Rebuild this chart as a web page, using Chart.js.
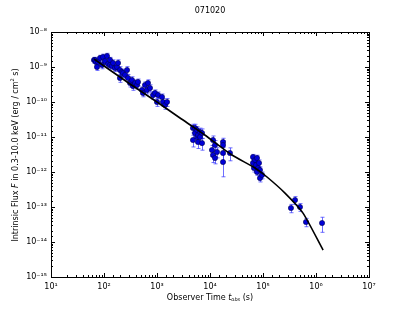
<!DOCTYPE html>
<html>
<head>
<meta charset="utf-8">
<script src="https://cdn.jsdelivr.net/npm/chart.js@4/dist/chart.umd.min.js"></script>
<style>
  html, body { margin: 0; padding: 0; background: #fff; }
  canvas { display: block; }
</style>
</head>
<body>
<canvas id="lc" width="411" height="309"></canvas>
<script>
/* Light curve 071020: measured flux points with errors + model curve */

const obsTime = [
  64.7, 67.6, 70.6, 73.8, 77.1, 84.1, 91.7, 95.8, 104, 114, 119, 130, 130, 141, 148,
  161, 176, 184, 200, 200, 219, 228, 249, 272, 284, 310, 337, 352, 385, 420, 438,
  521, 545, 594, 647, 676, 738, 841, 917, 1000, 1045, 1242, 1297, 1416, 1545,
  4775, 4775, 5210, 5210, 5690, 5690, 5940, 5940, 6480, 6480, 7070, 7070,
  10900, 11400, 11400, 12420, 12420, 13550, 17600, 17600, 17600, 17600, 23800,
  64700, 64700, 67600, 70600, 73800, 77100, 77100, 80500, 84100, 87700, 87700, 95800,
  3.37e5, 4.02e5, 4.99e5, 6.47e5, 1.30e6,
];

const flux = [
  1.58e-9, 1.58e-9, 1.39e-9, 1.0e-9, 1.39e-9, 1.81e-9, 1.14e-9, 1.93e-9, 1.48e-9, 2.06e-9, 1.22e-9, 1.58e-9, 1.14e-9, 1.07e-9, 1.30e-9,
  9.4e-10, 1.0e-9, 1.30e-9, 4.85e-10, 8.2e-10, 7.2e-10, 6.7e-10, 5.9e-10, 8.2e-10, 4.85e-10, 3.49e-10, 4.25e-10, 2.86e-10, 3.49e-10, 3.06e-10, 3.73e-10,
  2.2e-10, 1.81e-10, 3.06e-10, 2.2e-10, 3.49e-10, 2.51e-10, 1.58e-10, 1.81e-10, 1.0e-10, 1.58e-10, 1.39e-10, 1.0e-10, 8.2e-11, 1.0e-10,
  1.81e-11, 8.2e-12, 1.30e-11, 1.81e-11, 1.58e-11, 1.0e-11, 1.14e-11, 7.2e-12, 1.39e-11, 1.0e-11, 1.30e-11, 6.7e-12,
  4.25e-12, 8.2e-12, 3.06e-12, 5.9e-12, 2.51e-12, 3.73e-12, 7.2e-12, 5.9e-12, 3.49e-12, 1.93e-12, 3.49e-12,
  2.68e-12, 1.81e-12, 1.30e-12, 2.2e-12, 1.58e-12, 2.51e-12, 1.0e-12, 1.30e-12, 1.81e-12, 1.14e-12, 6.7e-13, 8.2e-13,
  9.36e-14, 1.58e-13, 1.0e-13, 3.73e-14, 3.49e-14,
];

const fluxErr = [
  3e-10, 3e-10, 3e-10, 2e-10, 3e-10, 3.5e-10, 2.5e-10, 4e-10, 3e-10, 4e-10, 2.5e-10, 3e-10, 2.5e-10, 2e-10, 3e-10,
  2e-10, 2e-10, 3e-10, 1.2e-10, 2e-10, 1.5e-10, 1.5e-10, 1.3e-10, 2e-10, 1.2e-10, 8e-11, 1e-10, 7e-11, 8e-11, 7e-11, 8e-11,
  5e-11, 4e-11, 7e-11, 5e-11, 8e-11, 6e-11, 4e-11, 4e-11, 2.5e-11, 3.5e-11, 3e-11, 2.5e-11, 2e-11, 2.5e-11,
  5e-12, 3e-12, 4e-12, 5e-12, 4e-12, 3e-12, 3e-12, 2.5e-12, 4e-12, 3e-12, 4e-12, 2.5e-12,
  1.5e-12, 2.5e-12, 1.2e-12, 2e-12, 8e-13, 1.2e-12, 2e-12, 2e-12, 1.5e-12, 1.2e-12, 1.4e-12,
  5e-13, 4e-13, 3e-13, 4e-13, 3e-13, 5e-13, 2e-13, 3e-13, 4e-13, 2.5e-13, 1.5e-13, 1.8e-13,
  2.5e-14, 4e-14, 2.5e-14, 1e-14, 1.6e-14,
];

const modelTime = [64.7, 310, 1000, 2717, 7070, 26000, 70600, 1.19e5, 2.6e5, 5.69e5, 1.36e6];
const modelFlux = [1.69e-9, 3.27e-10, 1.0e-10, 3.49e-11, 1.30e-11, 3.06e-12, 1.30e-12, 7.2e-13, 2.5e-13, 6.7e-14, 5.9e-15];

const FONT = '"DejaVu Sans", sans-serif';
const SUP = { '-': '\u207b', '0': '\u2070', '1': '\u00b9', '2': '\u00b2', '3': '\u00b3', '4': '\u2074',
              '5': '\u2075', '6': '\u2076', '7': '\u2077', '8': '\u2078', '9': '\u2079' };

function isPow10(v) {
  const l = Math.log10(v);
  return Math.abs(l - Math.round(l)) < 1e-6;
}
function powLabel(v) {
  if (!isPow10(v)) return '';
  return '10' + String(Math.round(Math.log10(v))).split('').map(c => SUP[c]).join('');
}

/** draw a row of text pieces (normal / italic / small raised or lowered) centred on x=0 */
function drawPieces(ctx, pieces) {
  const widths = pieces.map(p => { ctx.font = p.font; return ctx.measureText(p.text).width; });
  let x = -widths.reduce((a, b) => a + b, 0) / 2;
  pieces.forEach((p, i) => {
    ctx.font = p.font;
    ctx.fillText(p.text, x, p.dy || 0);
    x += widths[i];
  });
}

const decor = {
  id: 'decor',
  beforeDatasetDraw(chart, args) {
    if (args.index !== 1) return;
    const { ctx, scales: { x, y } } = chart;
    ctx.save();
    ctx.strokeStyle = 'rgba(50, 50, 255, 0.7)';
    ctx.lineWidth = 1;
    obsTime.forEach((t, i) => {
      const px = Math.round(x.getPixelForValue(t)) + 0.5;
      const lo = Math.max(flux[i] - fluxErr[i], 1e-16);
      const y0 = y.getPixelForValue(flux[i] + fluxErr[i]);
      const y1 = y.getPixelForValue(lo);
      ctx.beginPath();
      ctx.moveTo(px, y0); ctx.lineTo(px, y1);
      ctx.moveTo(px - 2, y0); ctx.lineTo(px + 2, y0);
      ctx.moveTo(px - 2, y1); ctx.lineTo(px + 2, y1);
      ctx.stroke();
    });
    ctx.restore();
  },
  afterDraw(chart) {
    const { ctx, chartArea: a, scales: { x, y } } = chart;
    ctx.save();
    ctx.strokeStyle = '#000';
    ctx.lineWidth = 1;
    ctx.strokeRect(Math.round(a.left) + 0.5, Math.round(a.top) + 0.5,
                   Math.round(a.right - a.left), Math.round(a.bottom - a.top));
    // inward ticks on all four sides
    ctx.beginPath();
    x.ticks.forEach(t => {
      const len = isPow10(t.value) ? 4 : 2;
      const p = Math.round(x.getPixelForValue(t.value)) + 0.5;
      ctx.moveTo(p, a.bottom); ctx.lineTo(p, a.bottom - len);
      ctx.moveTo(p, a.top); ctx.lineTo(p, a.top + len);
    });
    y.ticks.forEach(t => {
      const len = isPow10(t.value) ? 4 : 2;
      const p = Math.round(y.getPixelForValue(t.value)) + 0.5;
      ctx.moveTo(a.left, p); ctx.lineTo(a.left + len, p);
      ctx.moveTo(a.right, p); ctx.lineTo(a.right - len, p);
    });
    ctx.stroke();

    ctx.fillStyle = '#000';
    ctx.textBaseline = 'middle';
    ctx.textAlign = 'left';
    const n = '8px ' + FONT, it = 'italic 8px ' + FONT, sm = '5px ' + FONT;

    ctx.save();
    ctx.translate(210, 11);
    drawPieces(ctx, [{ text: '071020', font: n }]);
    ctx.restore();

    ctx.save();
    ctx.translate(210, 298);
    drawPieces(ctx, [
      { text: 'Observer Time ', font: n },
      { text: 't', font: it },
      { text: 'obs', font: 'italic ' + sm, dy: 2 },
      { text: ' (s)', font: n },
    ]);
    ctx.restore();

    ctx.save();
    ctx.translate(16, 155);
    ctx.rotate(-Math.PI / 2);
    drawPieces(ctx, [
      { text: 'Intrinsic Flux ', font: n },
      { text: 'F', font: it },
      { text: ' in 0.3-10.0 keV (erg / cm', font: n },
      { text: '2', font: sm, dy: -3 },
      { text: ' s)', font: n },
    ]);
    ctx.restore();
    ctx.restore();
  },
};

new Chart(document.getElementById('lc'), {
  data: {
    datasets: [
      {
        type: 'line',
        label: 'model',
        data: modelTime.map((t, i) => ({ x: t, y: modelFlux[i] })),
        borderColor: '#000',
        borderWidth: 1.6,
        pointRadius: 0,
        tension: 0.2,
        fill: false,
      },
      {
        type: 'scatter',
        label: 'data',
        data: obsTime.map((t, i) => ({ x: t, y: flux[i] })),
        backgroundColor: '#0000d8',
        borderColor: '#000050',
        borderWidth: 0.6,
        pointRadius: 2.6,
      },
    ],
  },
  options: {
    responsive: false,
    animation: false,
    events: [],
    layout: { padding: { top: 32, right: 42, left: 0, bottom: 0 } },
    plugins: { legend: { display: false }, tooltip: { enabled: false }, title: { display: false } },
    scales: {
      x: {
        type: 'logarithmic',
        min: 10, max: 1e7,
        afterFit: s => { s.height = 32; },
        grid: { display: false, drawTicks: false },
        border: { display: false },
        ticks: {
          autoSkip: false, maxRotation: 0, padding: 5,
          color: '#000', font: { family: 'DejaVu Sans', size: 8 },
          callback: v => powLabel(v),
        },
      },
      y: {
        type: 'logarithmic',
        min: 1e-15, max: 1e-8,
        afterFit: s => { s.width = 51; },
        grid: { display: false, drawTicks: false },
        border: { display: false },
        ticks: {
          autoSkip: false, padding: 4,
          color: '#000', font: { family: 'DejaVu Sans', size: 8 },
          callback: v => powLabel(v),
        },
      },
    },
  },
  plugins: [decor],
});
</script>
</body>
</html>
